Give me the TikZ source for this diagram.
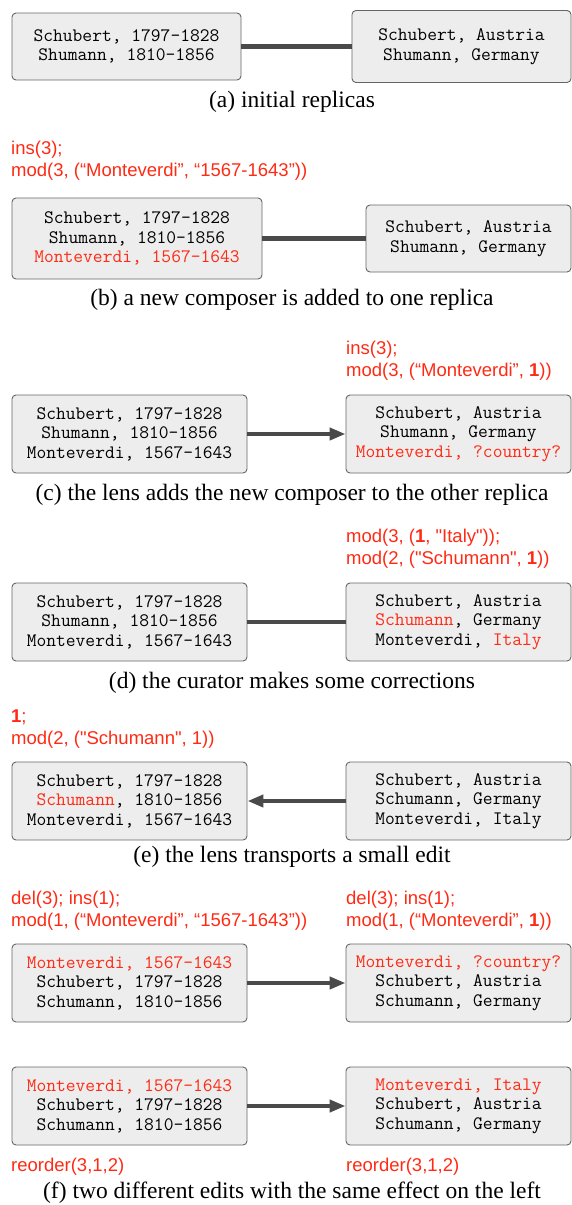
\documentclass[tikz,border=0pt]{standalone}
\usepackage{fontspec}
\setmainfont{Liberation Serif}
\newfontfamily\editfont{Liberation Sans}
\usetikzlibrary{arrows.meta,positioning}

\definecolor{editred}{RGB}{255,42,20}
\definecolor{boxgray}{RGB}{237,237,237}
\definecolor{linegray}{RGB}{74,74,74}

\tikzset{
  replica/.style={draw=linegray!85, fill=boxgray, rounded corners=4pt, line width=0.9pt,
    align=center, inner sep=0pt, font=\ttfamily\fontsize{19}{19.5}\selectfont},
  edit/.style={text=editred, align=left, anchor=west, inner sep=0pt,
    font=\editfont\fontsize{18.5}{22}\selectfont},
  caption/.style={inner sep=0pt, font=\fontsize{23.5}{26}\selectfont},
  link/.style={draw=linegray, line width=4.6pt},
  lens/.style={link, -{Triangle[length=16pt,width=12pt]}},
}
\newcommand{\hl}[1]{\textcolor{editred}{#1}}

\begin{document}
\begin{tikzpicture}[x=1pt,y=-1pt]
\useasboundingbox (0,0) rectangle (572,1205);

% (a)
\node[replica,minimum width=229pt,minimum height=67pt] (la) at (126.5,46.5)
  {Schubert, 1797-1828\\Shumann, 1810-1856};
\node[replica,minimum width=219pt,minimum height=72pt] (ra) at (461.5,46.5)
  {Schubert, Austria\\Shumann, Germany};
\draw[link] (la) -- (ra);
\node[caption] (capa) at (292,102) {(a) initial replicas};

% (b)
\node[edit] (eb) at (11,161) {ins(3);\\mod(3, (“Monteverdi”, “1567-1643”))};
\node[replica,minimum width=250pt,minimum height=81pt] (lb) at (137,238.5)
  {Schubert, 1797-1828\\Shumann, 1810-1856\\\hl{Monteverdi, 1567-1643}};
\node[replica,minimum width=205pt,minimum height=67pt] (rb) at (468.5,238.5)
  {Schubert, Austria\\Shumann, Germany};
\draw[link] (lb) -- (rb);
\node[caption] (capb) at (292,300) {(b) a new composer is added to one replica};

% (c)
\node[edit] (ec) at (346,361) {ins(3);\\mod(3, (“Monteverdi”, \textbf{1}))};
\node[replica,minimum width=235pt,minimum height=78pt] (lc) at (129.5,434)
  {Schubert, 1797-1828\\Shumann, 1810-1856\\Monteverdi, 1567-1643};
\node[replica,minimum width=225pt,minimum height=78pt] (rc) at (458.5,434)
  {Schubert, Austria\\Shumann, Germany\\\hl{Monteverdi, ?country?}};
\draw[lens] (lc) -- (rc);
\node[caption] (capc) at (292,495) {(c) the lens adds the new composer to the other replica};

% (d)
\node[edit] (ed) at (346,549) {mod(3, (\textbf{1}, "Italy"));\\mod(2, ("Schumann", \textbf{1}))};
\node[replica,minimum width=235pt,minimum height=78pt] (ld) at (129.5,622)
  {Schubert, 1797-1828\\Shumann, 1810-1856\\Monteverdi, 1567-1643};
\node[replica,minimum width=225pt,minimum height=78pt] (rd) at (458.5,622)
  {Schubert, Austria\\\hl{Schumann}, Germany\\Monteverdi, \hl{Italy}};
\draw[link] (ld) -- (rd);
\node[caption] (capd) at (292,683) {(d) the curator makes some corrections};

% (e)
\node[edit] (ee) at (11,729) {\textbf{1};\\mod(2, ("Schumann", 1))};
\node[replica,minimum width=235pt,minimum height=78pt] (le) at (129.5,801)
  {Schubert, 1797-1828\\\hl{Schumann}, 1810-1856\\Monteverdi, 1567-1643};
\node[replica,minimum width=225pt,minimum height=78pt] (re) at (458.5,801)
  {Schubert, Austria\\Schumann, Germany\\Monteverdi, Italy};
\draw[lens] (re) -- (le);
\node[caption] (cape) at (292,857) {(e) the lens transports a small edit};

% (f)
\node[edit] (efl) at (11,911) {del(3); ins(1);\\mod(1, (“Monteverdi”, “1567-1643”))};
\node[edit] (efr) at (346,911) {del(3); ins(1);\\mod(1, (“Monteverdi”, \textbf{1}))};
\node[replica,minimum width=235pt,minimum height=78pt] (lf) at (129.5,983)
  {\hl{Monteverdi, 1567-1643}\\Schubert, 1797-1828\\Schumann, 1810-1856};
\node[replica,minimum width=225pt,minimum height=78pt] (rf) at (458.5,983)
  {\hl{Monteverdi, ?country?}\\Schubert, Austria\\Schumann, Germany};
\draw[lens] (lf) -- (rf);

\node[replica,minimum width=235pt,minimum height=78pt] (lg) at (129.5,1106)
  {\hl{Monteverdi, 1567-1643}\\Schubert, 1797-1828\\Schumann, 1810-1856};
\node[replica,minimum width=225pt,minimum height=78pt] (rg) at (458.5,1106)
  {\hl{Monteverdi, Italy}\\Schubert, Austria\\Schumann, Germany};
\draw[lens] (lg) -- (rg);
\node[edit] (egl) at (11,1167) {reorder(3,1,2)};
\node[edit] (egr) at (346,1167) {reorder(3,1,2)};
\node[caption] (capf) at (292,1193) {(f) two different edits with the same effect on the left};
\end{tikzpicture}
\end{document}
